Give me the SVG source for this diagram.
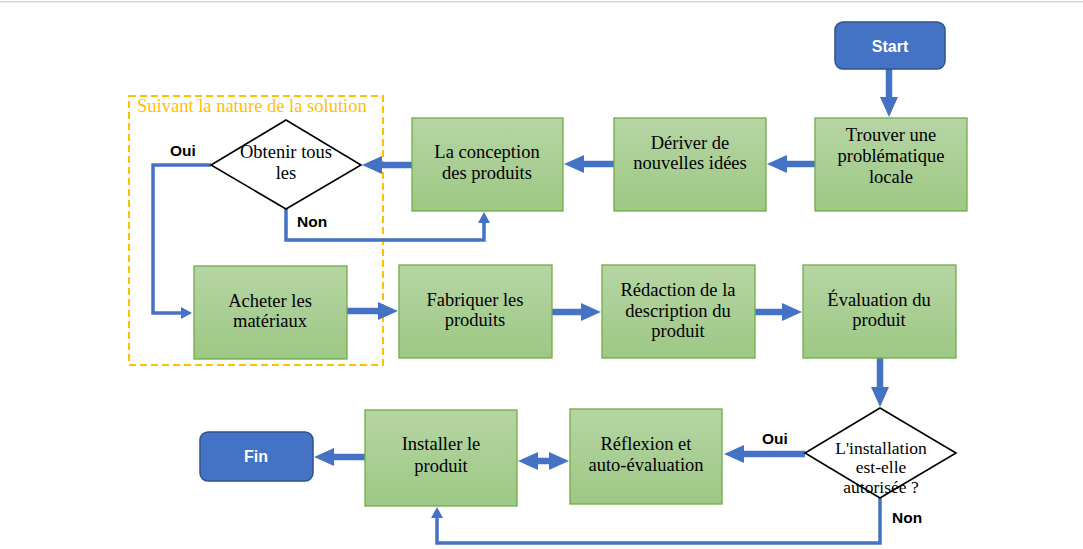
<svg xmlns="http://www.w3.org/2000/svg" width="1083" height="549" viewBox="0 0 1083 549">
<defs>
<linearGradient id="g" x1="0" y1="0" x2="0" y2="1">
<stop offset="0" stop-color="#B6D5A4"/>
<stop offset="1" stop-color="#9DC884"/>
</linearGradient>
<marker id="ah" markerUnits="userSpaceOnUse" markerWidth="21" markerHeight="18" refX="1" refY="9" orient="auto-start-reverse">
<path d="M0,0 L20,9 L0,18 z" fill="#4472C4"/>
</marker>
<marker id="at" markerUnits="userSpaceOnUse" markerWidth="12" markerHeight="12" refX="1" refY="6" orient="auto">
<path d="M0,0 L11,6 L0,12 z" fill="#4472C4"/>
</marker>
</defs>
<style>
.box{fill:url(#g);stroke:#70AD47;stroke-width:1.3}
.term{fill:#4472C4;stroke:#2F528F;stroke-width:1.5}
.dia{fill:#FFFFFF;stroke:#000000;stroke-width:1.6}
.t{font-family:"Liberation Serif","Times New Roman",serif;font-size:18.5px;fill:#000;text-anchor:middle}
.td{font-family:"Liberation Serif","Times New Roman",serif;font-size:17.5px;fill:#000;text-anchor:middle}
.tw{font-family:"Liberation Sans",Arial,sans-serif;font-size:16px;font-weight:bold;fill:#fff;text-anchor:middle}
.lb{font-family:"Liberation Sans",Arial,sans-serif;font-size:15.5px;font-weight:bold;fill:#000}
.thick{fill:none;stroke:#4472C4;stroke-width:6.5;marker-end:url(#ah)}
.thin{fill:none;stroke:#4472C4;stroke-width:3.5;marker-end:url(#at)}
</style>
<rect x="0" y="1" width="1083" height="1.5" fill="#D6D6D6"/>

<g id="zone">
<rect x="129" y="96" width="254" height="269" fill="none" stroke="#FFC000" stroke-width="2" stroke-dasharray="7,4"/>
<text x="137" y="112" font-family="Liberation Serif,Times New Roman,serif" font-size="18.5" fill="#FFC000">Suivant la nature de la solution</text>
</g>

<g id="connectors">
<line class="thick" x1="889" y1="69" x2="889" y2="98"/>
<line class="thick" x1="815" y1="164" x2="786" y2="164"/>
<line class="thick" x1="614" y1="164" x2="583" y2="164"/>
<line class="thick" x1="412" y1="165" x2="381" y2="165"/>
<line class="thick" x1="347" y1="311" x2="379" y2="311"/>
<line class="thick" x1="552" y1="312" x2="582" y2="312"/>
<line class="thick" x1="755" y1="312" x2="783" y2="312"/>
<line class="thick" x1="880" y1="358" x2="880" y2="388"/>
<line class="thick" x1="805" y1="454" x2="743" y2="454"/>
<line class="thick" x1="537" y1="461" x2="550" y2="461" style="marker-start:url(#ah)"/>
<line class="thick" x1="365" y1="457" x2="333" y2="457"/>
<path class="thin" d="M211,165 H153 V313 H182"/>
<path class="thin" d="M286,209 V240 H484 V222"/>
<path class="thin" d="M880,498 V543 H437 V517"/>
<text class="lb" x="170" y="156">Oui</text>
<text class="lb" x="297" y="227">Non</text>
<text class="lb" x="762" y="444">Oui</text>
<text class="lb" x="892" y="523">Non</text>
</g>

<g id="start">
<rect class="term" x="835" y="22" width="110" height="47" rx="8"/>
<text class="tw" x="890" y="52">Start</text>
</g>
<g id="trouver">
<rect class="box" x="815" y="118" width="152" height="93"/>
<text class="t" x="891" y="141">Trouver une</text>
<text class="t" x="891" y="162">problématique</text>
<text class="t" x="891" y="183">locale</text>
</g>
<g id="deriver">
<rect class="box" x="614" y="118" width="152" height="93"/>
<text class="t" x="690" y="149">Dériver de</text>
<text class="t" x="690" y="169">nouvelles idées</text>
</g>
<g id="conception">
<rect class="box" x="412" y="118" width="151" height="93"/>
<text class="t" x="487" y="158">La conception</text>
<text class="t" x="487" y="179">des produits</text>
</g>
<g id="obtenir">
<polygon class="dia" points="286,120 361,165 286,209 211,165"/>
<text class="t" x="286" y="158">Obtenir tous</text>
<text class="t" x="286" y="179">les</text>
</g>
<g id="acheter">
<rect class="box" x="194" y="266" width="153" height="93"/>
<text class="t" x="270" y="307">Acheter les</text>
<text class="t" x="270" y="327">matériaux</text>
</g>
<g id="fabriquer">
<rect class="box" x="399" y="265" width="153" height="93"/>
<text class="t" x="475" y="306">Fabriquer les</text>
<text class="t" x="475" y="326">produits</text>
</g>
<g id="redaction">
<rect class="box" x="602" y="265" width="153" height="93"/>
<text class="t" x="678" y="296">Rédaction de la</text>
<text class="t" x="678" y="317">description du</text>
<text class="t" x="678" y="337">produit</text>
</g>
<g id="evaluation">
<rect class="box" x="803" y="265" width="153" height="93"/>
<text class="t" x="879" y="306">Évaluation du</text>
<text class="t" x="879" y="326">produit</text>
</g>
<g id="installation">
<polygon class="dia" points="880,408 956,453 880,498 805,453"/>
<text class="td" x="881" y="454">L'installation</text>
<text class="td" x="881" y="473">est-elle</text>
<text class="td" x="881" y="493">autorisée ?</text>
</g>
<g id="reflexion">
<rect class="box" x="570" y="409" width="152" height="95"/>
<text class="t" x="646" y="450">Réflexion et</text>
<text class="t" x="646" y="471">auto-évaluation</text>
</g>
<g id="installer">
<rect class="box" x="365" y="410" width="152" height="96"/>
<text class="t" x="441" y="450">Installer le</text>
<text class="t" x="441" y="472">produit</text>
</g>
<g id="fin">
<rect class="term" x="200" y="432" width="113" height="49" rx="8"/>
<text class="tw" x="256" y="462">Fin</text>
</g>
</svg>
